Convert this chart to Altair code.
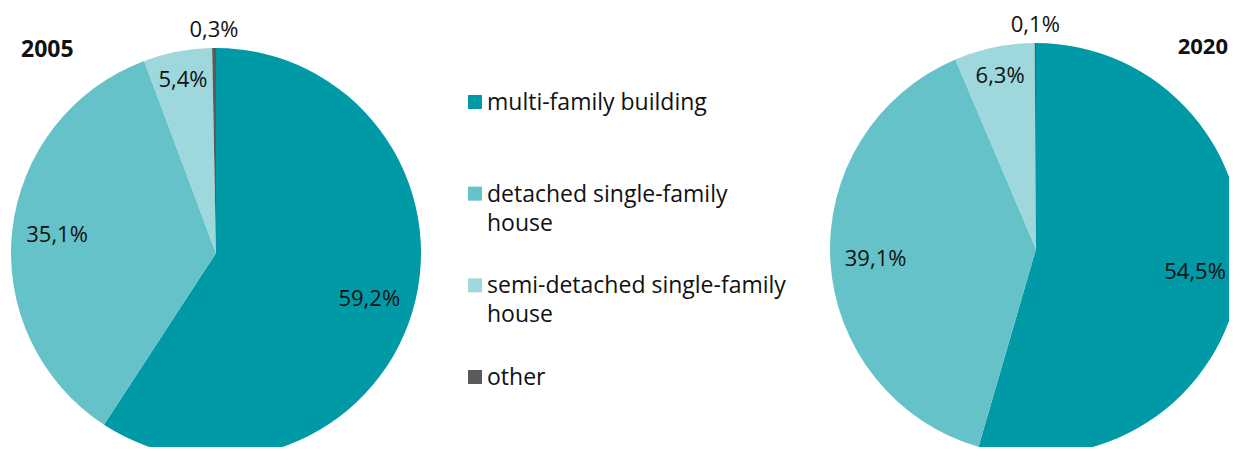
import altair as alt
import pandas as pd

categories = ["multi-family building", "detached single-family house",
              "semi-detached single-family house", "other"]
legend_labels = ["multi-family building", "detached single-family\nhouse",
                 "semi-detached single-family\nhouse", "other"]
colors = ["#0099a6", "#66c2c9", "#9ed8dc", "#5a5a5a"]
years = ["2005", "2020"]
values_2005 = [59.2, 35.1, 5.4, 0.3]
values_2020 = [54.5, 39.1, 6.3, 0.1]

rows = []
for year, vals in zip(years, [values_2005, values_2020]):
    for i, (c, v) in enumerate(zip(categories, vals)):
        tier = "big" if v >= 10 else ("mid" if v >= 1 else "small")
        rows.append({"year": year, "category": c, "value": v, "idx": i,
                     "label": f"{v:.1f}".replace(".", ",") + "%", "tier": tier})
df = pd.DataFrame(rows)
leg = pd.DataFrame({"category": categories, "text": legend_labels})

FONT = "Open Sans"
TXT = "#111111"
color = alt.Color("category:N", scale=alt.Scale(domain=categories, range=colors), legend=None)
theta_scale = alt.Scale(domain=[0, 100])

def pie(year, cx, cy, r):
    src = alt.Chart(df).transform_filter(alt.datum.year == year)
    arc = src.mark_arc(outerRadius=r, stroke=None).encode(
        theta=alt.Theta("value:Q", stack=True, scale=theta_scale),
        order=alt.Order("idx:Q"),
        color=color, x=alt.value(cx), y=alt.value(cy))
    lab = src.transform_window(
        cum="sum(value)", sort=[alt.SortField("idx", order="ascending")],
        frame=[None, 0]
    ).transform_calculate(mid="datum.cum - datum.value / 2")
    out = [arc]
    for tier, rad in [("big", r * 0.78), ("mid", r * 0.86), ("small", r + 18)]:
        out.append(lab.transform_filter(alt.datum.tier == tier).mark_text(
            radius=rad, font=FONT, fontSize=22, color=TXT).encode(
            theta=alt.Theta("mid:Q", stack=False, scale=theta_scale),
            text="label:N", x=alt.value(cx), y=alt.value(cy)))
    return out

layers = pie("2005", 208, 245, 205) + pie("2020", 1028, 241, 206)

title_df = pd.DataFrame({"year": years})
t2005 = alt.Chart(title_df).transform_filter(alt.datum.year == "2005").mark_text(
    font=FONT, fontSize=23, fontWeight="bold", align="left", baseline="middle",
    color=TXT).encode(text="year:N", x=alt.value(13), y=alt.value(42))
t2020 = alt.Chart(title_df).transform_filter(alt.datum.year == "2020").mark_text(
    font=FONT, fontSize=22, fontWeight="bold", align="right", baseline="middle",
    color=TXT).encode(text="year:N", x=alt.value(1220), y=alt.value(39))

ysc = alt.Scale(domain=categories, range=[94, 369], padding=0)
leg_sq = alt.Chart(leg).mark_square(size=196, opacity=1).encode(
    x=alt.value(467), y=alt.Y("category:N", scale=ysc, axis=None), color=color)
leg_tx = alt.Chart(leg).mark_text(
    font=FONT, fontSize=23, align="left", baseline="alphabetic", lineBreak="\n",
    lineHeight=29, color=TXT, dy=8).encode(
    x=alt.value(479), y=alt.Y("category:N", scale=ysc, axis=None), text="text:N")

chart = alt.layer(*layers, t2005, t2020, leg_sq, leg_tx).properties(
    width=1221, height=439, padding=0,
    autosize=alt.AutoSizeParams(type="none"),
).configure_view(stroke=None)

chart.save("out.html", embed_options={"renderer": "svg", "actions": False})
